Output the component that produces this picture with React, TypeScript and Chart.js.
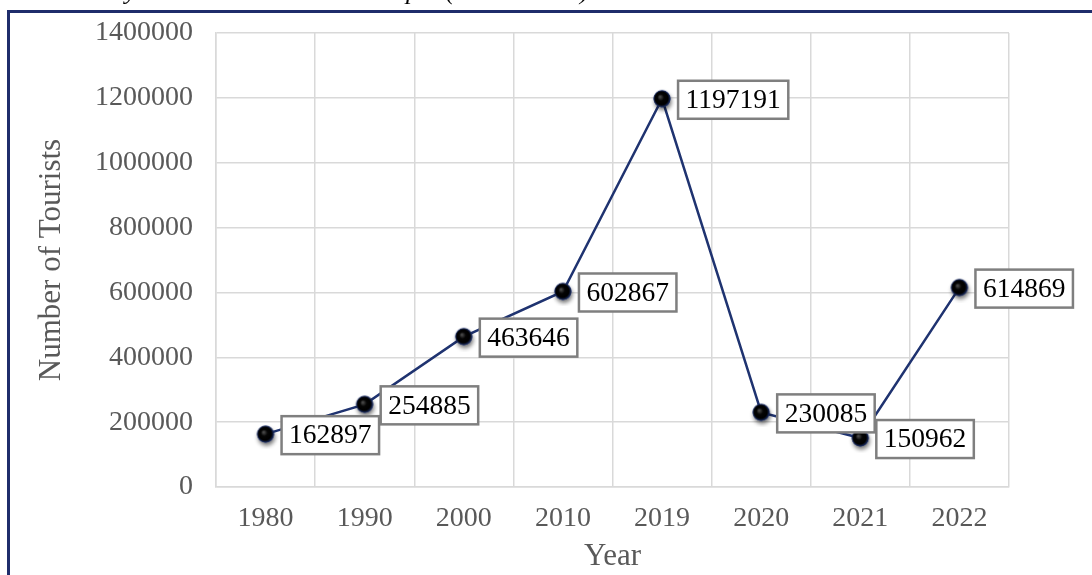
import React, { useEffect, useRef } from 'react';
import { Chart, registerables } from 'chart.js';

Chart.register(...registerables);

const years: string[] = ['1980', '1990', '2000', '2010', '2019', '2020', '2021', '2022'];
const tourists: number[] = [162897, 254885, 463646, 602867, 1197191, 230085, 150962, 614869];
const yMin = 0;
const yMax = 1400000;
const yStep = 200000;
const yTitle = 'Number of Tourists';
const xTitle = 'Year';
const caption = 'Trend Analysis: Tourist Arrivals in Nepal (1980 - 2022)';

const SERIF = '"Liberation Serif", "Times New Roman", serif';
const NAVY = '#1f3370';

function makeSphere(): HTMLCanvasElement {
  const c = document.createElement('canvas');
  c.width = 30;
  c.height = 30;
  const g = c.getContext('2d') as CanvasRenderingContext2D;
  const cx = 15, cy = 15, r = 8.5;
  g.save();
  g.shadowColor = 'rgba(0,0,0,0.55)';
  g.shadowBlur = 4;
  g.shadowOffsetX = 1;
  g.shadowOffsetY = 3;
  g.beginPath();
  g.arc(cx, cy, r, 0, Math.PI * 2);
  g.fillStyle = NAVY;
  g.fill();
  g.restore();
  const grad = g.createRadialGradient(cx - 2, cy - 2, 0.5, cx, cy, r);
  grad.addColorStop(0, '#4a4a4a');
  grad.addColorStop(0.35, '#050505');
  grad.addColorStop(0.75, '#000000');
  grad.addColorStop(1, NAVY);
  g.beginPath();
  g.arc(cx, cy, r, 0, Math.PI * 2);
  g.fillStyle = grad;
  g.fill();
  return c;
}

const boxLabelPlugin = {
  id: 'boxLabels',
  afterDatasetsDraw(chart: any) {
    const ctx: CanvasRenderingContext2D = chart.ctx;
    const meta = chart.getDatasetMeta(0);
    const data = chart.data.datasets[0].data as number[];
    ctx.save();
    ctx.font = `27.5px ${SERIF}`;
    meta.data.forEach((pt: any, i: number) => {
      const text = String(data[i]);
      const tw = ctx.measureText(text).width;
      const bw = tw + 15;
      const bh = 38;
      const bx = pt.x + 16;
      const by = pt.y - bh / 2 + 1;
      ctx.fillStyle = '#ffffff';
      ctx.fillRect(bx, by, bw, bh);
      ctx.strokeStyle = '#7f7f7f';
      ctx.lineWidth = 2.5;
      ctx.strokeRect(bx, by, bw, bh);
      ctx.fillStyle = '#000000';
      ctx.textBaseline = 'middle';
      ctx.textAlign = 'left';
      ctx.fillText(text, bx + 7.5, by + bh / 2 + 1);
    });
    ctx.restore();
  },
};

const captionPlugin = {
  id: 'cutCaption',
  afterDraw(chart: any) {
    const ctx: CanvasRenderingContext2D = chart.ctx;
    ctx.save();
    ctx.font = `italic 26px ${SERIF}`;
    ctx.fillStyle = '#000000';
    ctx.textBaseline = 'alphabetic';
    ctx.textAlign = 'left';
    const pre = ctx.measureText('Trend Anal').width;
    const yw = ctx.measureText('y').width;
    const startX = 131 - pre - yw / 2;
    ctx.fillText(caption, startX, -1);
    ctx.restore();
  },
};

export default function App() {
  const ref = useRef<HTMLCanvasElement | null>(null);

  useEffect(() => {
    if (!ref.current) return;
    const sphere = makeSphere();
    const chart = new Chart(ref.current, {
      type: 'line',
      data: {
        labels: years,
        datasets: [
          {
            data: tourists,
            borderColor: NAVY,
            borderWidth: 2.5,
            tension: 0,
            pointStyle: sphere as any,
            pointRadius: 9,
            pointHoverRadius: 9,
            fill: false,
          },
        ],
      },
      options: {
        responsive: false,
        animation: false,
        events: [],
        layout: { padding: { top: 33, right: 83, bottom: 0, left: 0 } },
        plugins: {
          legend: { display: false },
          tooltip: { enabled: false },
          title: { display: false },
        },
        scales: {
          x: {
            type: 'category',
            offset: true,
            grid: { offset: true, color: '#d9d9d9', lineWidth: 1.5, drawTicks: false },
            border: { color: '#d9d9d9', width: 1.5 },
            ticks: { font: { family: SERIF, size: 28 }, color: '#595959', padding: 15, maxRotation: 0 },
            title: {
              display: true,
              text: xTitle,
              font: { family: SERIF, size: 31 },
              color: '#595959',
              padding: { top: 0, bottom: 0 },
            },
            afterFit: (s: any) => {
              s.height = 88;
              s.paddingLeft = 0;
              s.paddingRight = 0;
            },
          },
          y: {
            min: yMin,
            max: yMax,
            ticks: {
              stepSize: yStep,
              font: { family: SERIF, size: 28 },
              color: '#595959',
              padding: 23,
              callback: (v: any) => String(v),
            },
            grid: { color: '#d9d9d9', lineWidth: 1.5, drawTicks: false },
            border: { color: '#d9d9d9', width: 1.5 },
            title: {
              display: true,
              text: yTitle,
              font: { family: SERIF, size: 31 },
              color: '#595959',
              padding: { top: 33, bottom: 0 },
            },
            afterFit: (s: any) => {
              s.width = 216;
              s.paddingTop = 0;
              s.paddingBottom = 0;
            },
          },
        },
      },
      plugins: [boxLabelPlugin, captionPlugin],
    });
    return () => chart.destroy();
  }, []);

  return (
    <div style={{ position: 'fixed', left: 0, top: 0, width: 1092, height: 575, background: '#ffffff', overflow: 'hidden' }}>
      <div
        style={{
          position: 'absolute',
          left: 7,
          top: 10,
          width: 1200,
          height: 800,
          borderTop: '3px solid #1f2d6b',
          borderLeft: '3px solid #1f2d6b',
          boxSizing: 'border-box',
        }}
      />
      <canvas ref={ref} width={1092} height={575} style={{ position: 'absolute', left: 0, top: 0, display: 'block' }} />
    </div>
  );
}
